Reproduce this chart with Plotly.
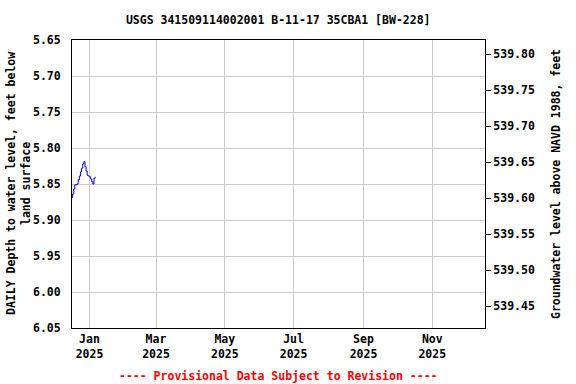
import plotly.graph_objects as go
import pandas as pd

dates = pd.date_range("2024-12-16", "2025-01-06", freq="D").strftime("%Y-%m-%d").tolist()
depth = [5.869, 5.864, 5.857, 5.851, 5.851, 5.850, 5.844, 5.839, 5.833, 5.828, 5.822,
         5.819, 5.826, 5.832, 5.838, 5.839, 5.840, 5.843, 5.847, 5.850, 5.842, 5.840]
datum = 545.47
left_ticks = [5.65, 5.70, 5.75, 5.80, 5.85, 5.90, 5.95, 6.00, 6.05]
right_ticks = [539.45, 539.50, 539.55, 539.60, 539.65, 539.70, 539.75, 539.80]
x_tickvals = ["2025-01-01", "2025-03-01", "2025-05-01", "2025-07-01", "2025-09-01", "2025-11-01"]
x_ticktext = ["Jan<br>2025", "Mar<br>2025", "May<br>2025", "Jul<br>2025", "Sep<br>2025", "Nov<br>2025"]

FONT = "DejaVu Sans Mono"
fnt = dict(family=FONT, size=11.5, color="black", weight="bold")

fig = go.Figure()
fig.add_trace(go.Scatter(x=dates, y=depth, mode="lines", line=dict(color="#0000ff", width=1, shape="hv"),
                         showlegend=False, hoverinfo="skip"))
fig.add_trace(go.Scatter(x=dates, y=[datum - d for d in depth], mode="lines", yaxis="y2",
                         line=dict(color="rgba(0,0,0,0)", width=0), showlegend=False, hoverinfo="skip"))

fig.update_layout(
    width=576, height=384,
    margin=dict(l=72, r=91, t=40, b=56, autoexpand=False),
    paper_bgcolor="white", plot_bgcolor="white",
    font=fnt,
    title=dict(text="USGS 341509114002001 B-11-17 35CBA1 [BW-228]", x=0.483, xanchor="center",
               y=0.948, yanchor="middle", font=dict(family=FONT, size=11.5, color="black", weight="bold")),
    xaxis=dict(range=["2024-12-16 12:00", "2025-12-17 18:00"], tickvals=x_tickvals, ticktext=x_ticktext,
               showgrid=True, gridcolor="#cccccc", gridwidth=1, showline=True, linecolor="black",
               linewidth=1, mirror=True, ticks="", tickfont=fnt, automargin=False),
    yaxis=dict(range=[6.05, 5.65], tickvals=left_ticks, ticktext=[f"{v:.2f}" for v in left_ticks],
               showgrid=True, gridcolor="#cccccc", showline=True, linecolor="black", linewidth=1,
               mirror=True, ticks="", tickfont=fnt, zeroline=False, ticklabelstandoff=8, automargin=False),
    yaxis2=dict(range=[datum - 6.05, datum - 5.65], overlaying="y", side="right",
                tickvals=right_ticks, ticktext=[f"{v:.2f}" for v in right_ticks], automargin=False,
                showgrid=False, ticks="outside", ticklen=5, tickcolor="black", tickfont=fnt, zeroline=False),
    annotations=[
        dict(text="---- Provisional Data Subject to Revision ----", xref="paper", yref="paper",
             x=0.5, y=-0.165, xanchor="center", yanchor="middle", showarrow=False,
             font=dict(family=FONT, size=11.5, color="red", weight="bold")),
        dict(text="DAILY Depth to water level, feet below<br>land surface", xref="paper", yref="paper",
             x=0, y=0.5, xanchor="center", yanchor="middle", xshift=-54, textangle=-90,
             showarrow=False, align="center", font=fnt),
        dict(text="Groundwater level above NAVD 1988, feet", xref="paper", yref="paper",
             x=1, y=0.5, xanchor="center", yanchor="middle", xshift=71, textangle=-90,
             showarrow=False, font=fnt),
    ],
)
fig.write_html("out.html")
